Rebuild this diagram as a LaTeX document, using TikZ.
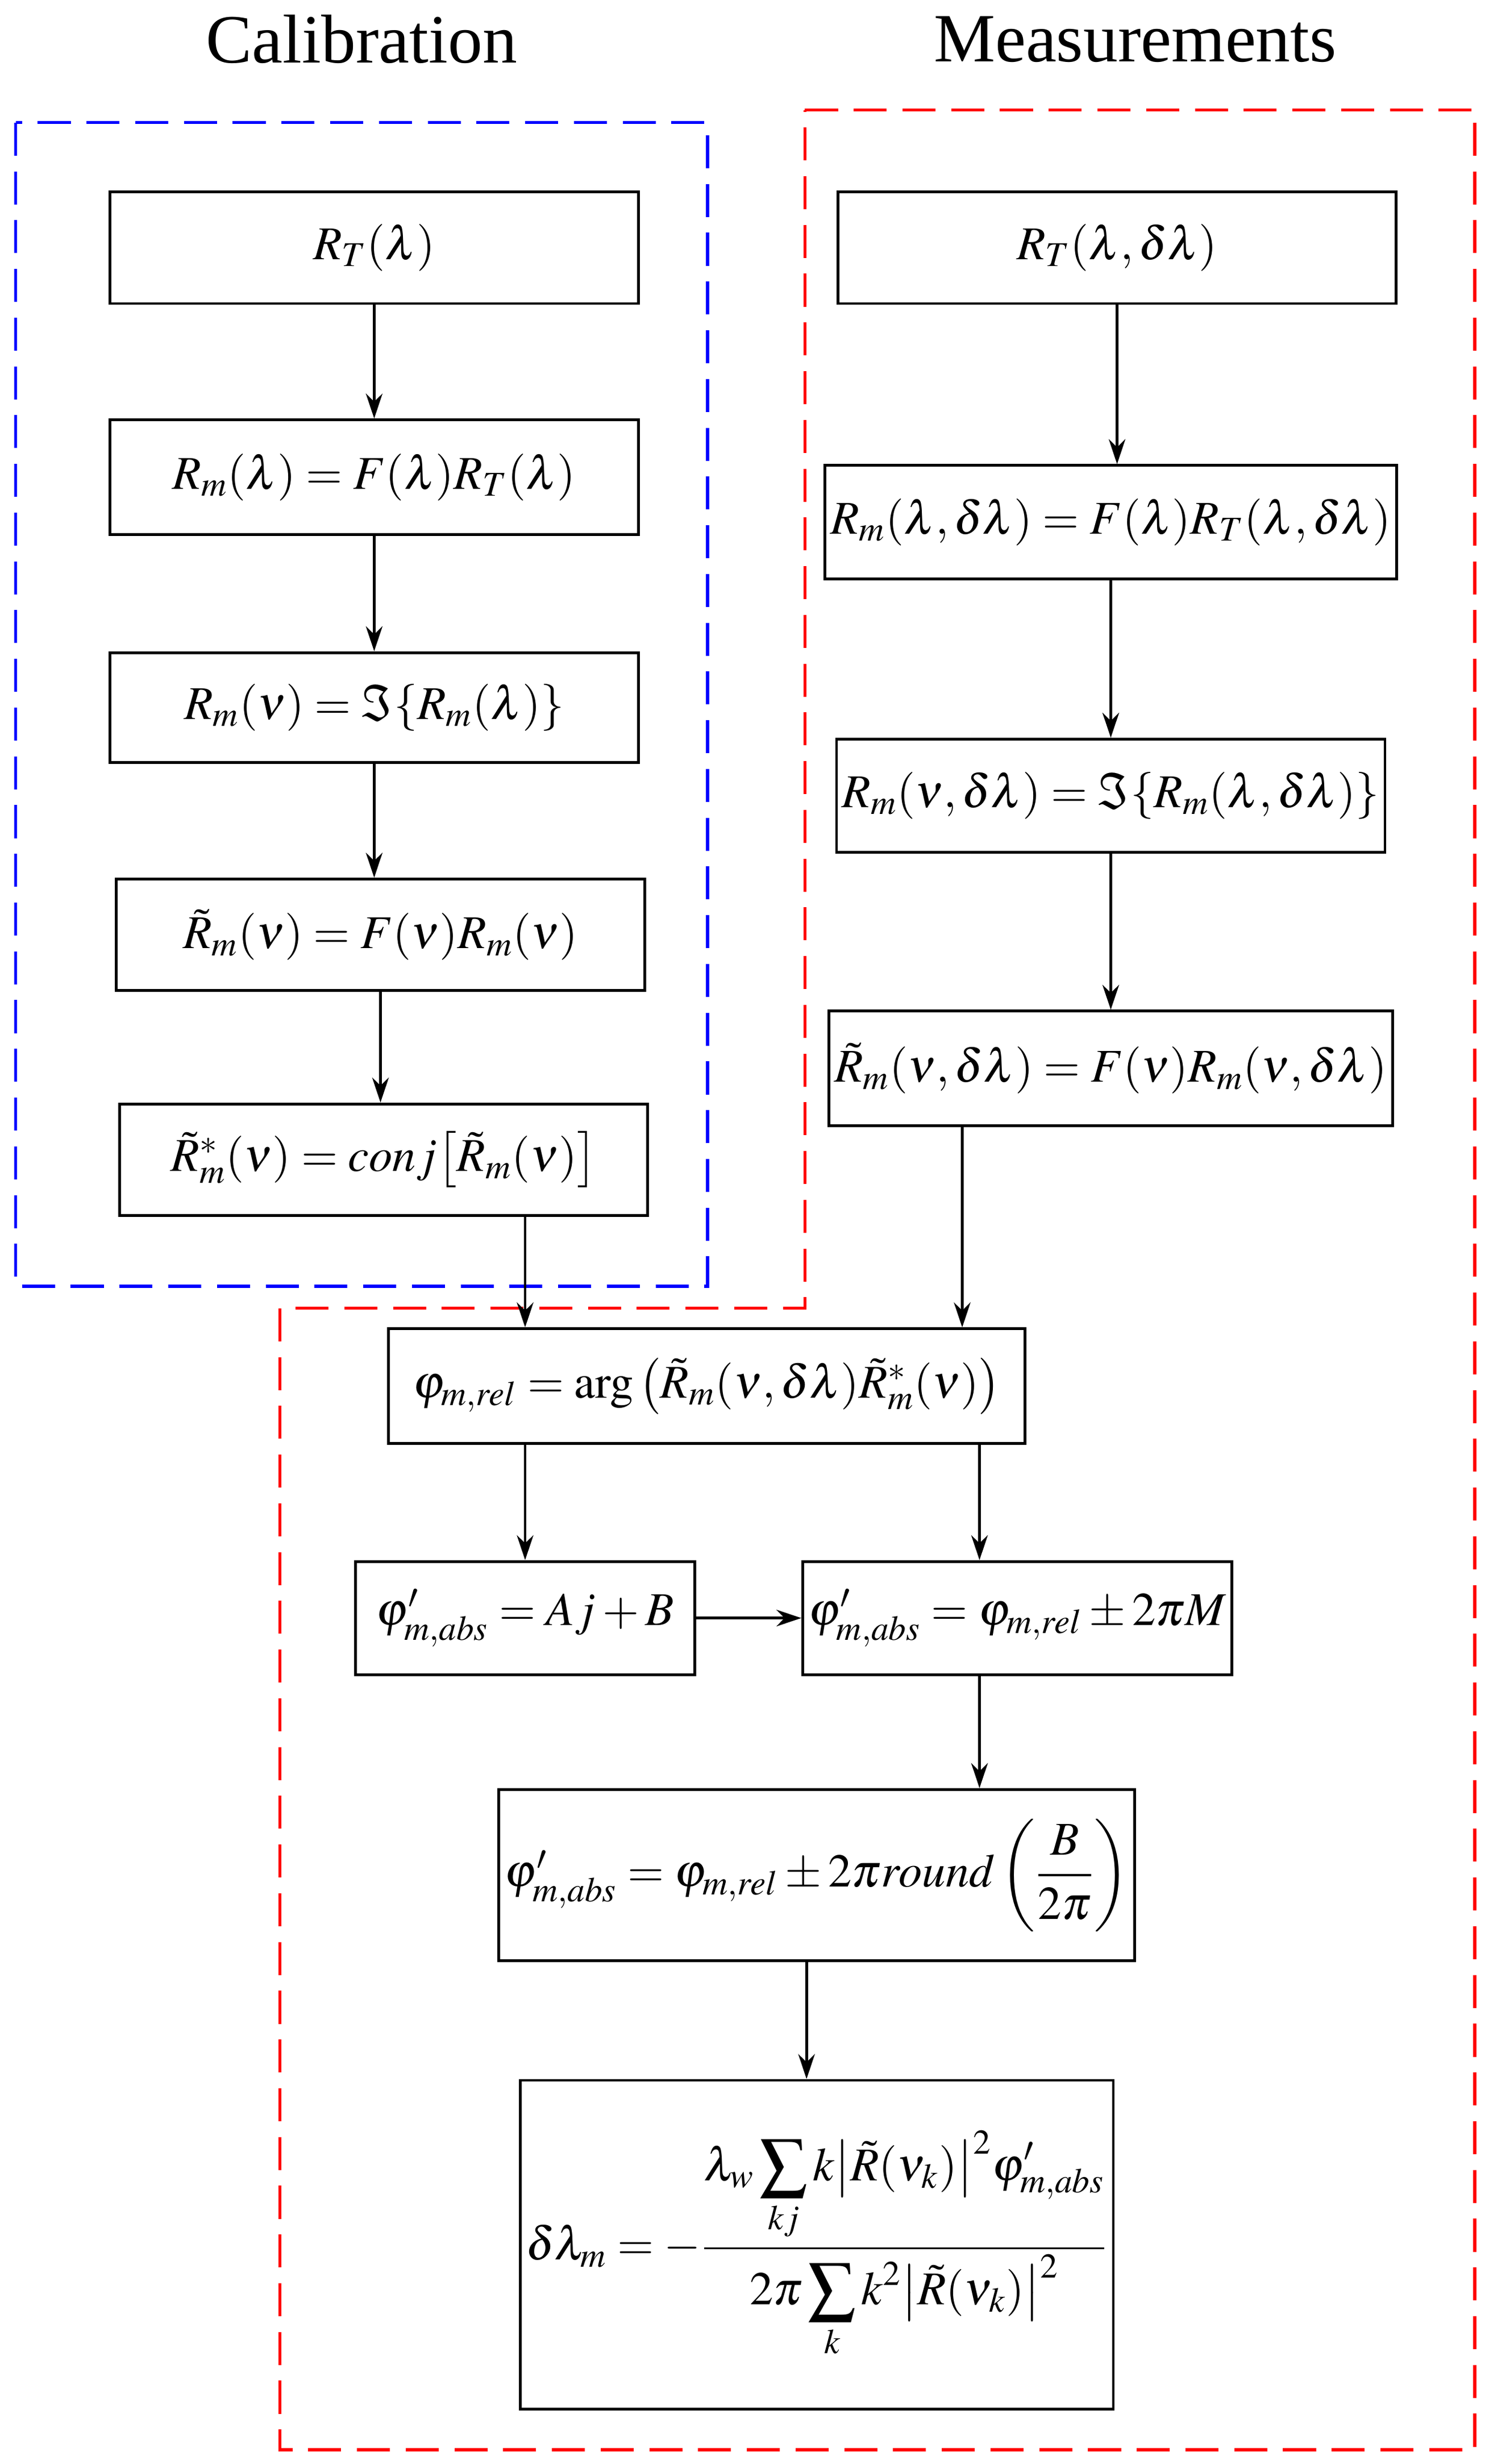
\documentclass[tikz,border=0pt]{standalone}
\usepackage{mathptmx}
\usepackage{amsmath}
\usepackage{fontspec}
\setmainfont{Liberation Serif}
\usetikzlibrary{arrows.meta}
\tikzset{
  box/.style={draw, line width=1pt, minimum width=6.72cm, minimum height=1.42cm,
    inner sep=2pt, font=\fontsize{17}{20}\selectfont},
  arr/.style={-{Stealth[length=9pt,width=6pt]}, line width=1pt},
  frame/.style={line width=1.1pt, dash pattern=on 0.42cm off 0.2cm},
}
\begin{document}
\begin{tikzpicture}
\useasboundingbox (0,0) rectangle (18.94,-31.34);

% Titles
\node[font=\fontsize{25}{30}\selectfont] (tcal) at (4.6,-0.5) {Calibration};
\node[font=\fontsize{25}{30}\selectfont] (tmes) at (14.44,-0.5) {Measurements};

% Frames
\draw[frame, blue] (0.2,-1.56) rectangle (9.0,-16.36);
\draw[frame, red] (10.24,-1.4) -- (18.76,-1.4) -- (18.76,-31.16) -- (3.56,-31.16)
  -- (3.56,-16.64) -- (10.24,-16.64) -- cycle;

% Calibration
\node[box] (l1) at (4.76,-3.15) {$R_T(\lambda)$};
\node[box, minimum height=1.46cm] (l2) at (4.76,-6.07) {$R_m(\lambda)=F(\lambda)R_T(\lambda)$};
\node[box, minimum height=1.4cm] (l3) at (4.76,-9.0) {$R_m(\nu)=\Im\{R_m(\lambda)\}$};
\node[box] (l4) at (4.84,-11.89) {$\tilde{R}_m(\nu)=F(\nu)R_m(\nu)$};
\node[box] (l5) at (4.88,-14.75) {$\tilde{R}^*_m(\nu)=conj\big[\tilde{R}_m(\nu)\big]$};

% Measurements
\node[box, minimum width=7.1cm] (r1) at (14.21,-3.15) {$R_T(\lambda,\delta\lambda)$};
\node[box, minimum width=7.1cm, minimum height=1.44cm] (r2) at (14.13,-6.64)
  {$R_m(\lambda,\delta\lambda)=F(\lambda)R_T(\lambda,\delta\lambda)$};
\node[box, minimum width=6.94cm, minimum height=1.44cm] (r3) at (14.13,-10.12)
  {$R_m(\nu,\delta\lambda)=\Im\{R_m(\lambda,\delta\lambda)\}$};
\node[box, minimum width=6.94cm, minimum height=1.46cm] (r4) at (14.13,-13.59)
  {$\tilde{R}_m(\nu,\delta\lambda)=F(\nu)R_m(\nu,\delta\lambda)$};

% Common part
\node[box, minimum width=8.1cm, minimum height=1.46cm] (c1) at (8.99,-17.63)
  {$\varphi_{m,rel}=\arg\big(\tilde{R}_m(\nu,\delta\lambda)\tilde{R}^*_m(\nu)\big)$};
\node[box, minimum width=4.32cm, minimum height=1.44cm] (c2) at (6.68,-20.58)
  {$\varphi'_{m,abs}=Aj+B$};
\node[box, minimum width=5.28cm, minimum height=1.44cm] (c3) at (12.94,-20.58)
  {$\varphi'_{m,abs}=\varphi_{m,rel}\pm2\pi M$};
\node[box, minimum width=7.38cm, minimum height=2.18cm] (c4) at (10.39,-23.85)
  {$\varphi'_{m,abs}=\varphi_{m,rel}\pm2\pi round\left(\dfrac{B}{2\pi}\right)$};
\node[box, minimum width=7.38cm, minimum height=4.18cm] (c5) at (10.39,-28.55)
  {$\delta\lambda_m=-\dfrac{\lambda_w\displaystyle\sum_{kj}k\big|\tilde{R}(\nu_k)\big|^2\varphi'_{m,abs}}
   {2\pi\displaystyle\sum_{k}k^2\big|\tilde{R}(\nu_k)\big|^2}$};

% Arrows
\draw[arr] (l1) -- (l2);
\draw[arr] (l2) -- (l3);
\draw[arr] (l3.south) -- (l3.south |- l4.north);
\draw[arr] (l4.south) -- (l4.south |- l5.north);
\draw[arr] (l5.south -| c2.north) -- (c1.north -| c2.north);
\draw[arr] (r1.south) -- (r1.south |- r2.north);
\draw[arr] (r2) -- (r3);
\draw[arr] (r3) -- (r4);
\draw[arr] ([xshift=-1.89cm]r4.south) -- ([xshift=3.25cm]c1.north);
\draw[arr] (c1.south -| c2.north) -- (c2.north);
\draw[arr] ([xshift=3.47cm]c1.south) -- ([xshift=-0.48cm]c3.north);
\draw[arr] (c2) -- (c3);
\draw[arr] ([xshift=-0.48cm]c3.south) -- ([xshift=2.07cm]c4.north);
\draw[arr] ([xshift=-0.13cm]c4.south) -- ([xshift=-0.13cm]c5.north);
\end{tikzpicture}
\end{document}
